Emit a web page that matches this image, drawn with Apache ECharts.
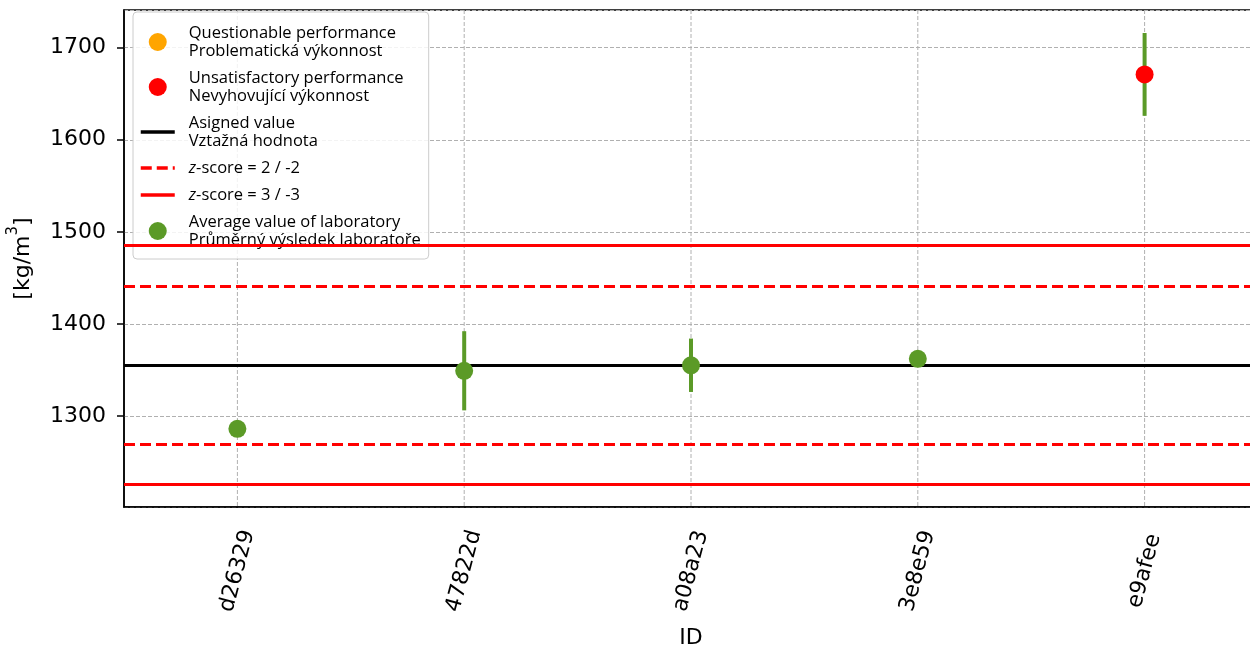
<!DOCTYPE html>
<html>
<head>
<meta charset="utf-8">
<script src="https://cdn.jsdelivr.net/npm/echarts@6/dist/echarts.min.js"></script>
<style>
  html, body { margin: 0; padding: 0; background: #fff; }
  #chart { width: 1250px; height: 645px; }
</style>
</head>
<body>
<div id="chart"></div>
<script>
// lab results
const labIds = ["d26329", "47822d", "a08a23", "3e8e59", "e9afee"];
const labMeans = [1286, 1349, 1355, 1362, 1671];
const labUncert = [3, 43, 29, 0, 45];
const labRating = ["ok", "ok", "ok", "ok", "unsatisfactory"];

const assignedValue = 1355;
const z2Limits = [1441, 1269];
const z3Limits = [1485, 1226];

const GREEN = "#5b9a27";
const RED = "#ff0000";
const ORANGE = "#ffa500";
const DASH = [11, 5];

const chart = echarts.init(document.getElementById("chart"));

const okPoints = [];
const badPoints = [];
const questPoints = [];
labIds.forEach((id, i) => {
  if (labRating[i] === "unsatisfactory") badPoints.push([i, labMeans[i]]);
  else if (labRating[i] === "questionable") questPoints.push([i, labMeans[i]]);
  else okPoints.push([i, labMeans[i]]);
});

const errBars = labIds.map((id, i) => [i, labMeans[i] - labUncert[i], labMeans[i] + labUncert[i]]);

const hLine = (name, value, color, type) => ({
  name: name,
  type: "line",
  data: [],
  symbol: "none",
  lineStyle: { color: color, width: 3, type: type },
  itemStyle: { color: color, opacity: 0 },
  markLine: {
    silent: true,
    symbol: "none",
    label: { show: false },
    lineStyle: { color: color, width: 3, type: type },
    data: [{ yAxis: value }]
  }
});

const series = [
  {
    name: "vgrid",
    type: "custom",
    z: 0,
    silent: true,
    data: labIds.map((id, i) => [i, labMeans[i]]),
    renderItem: (params, api) => {
      const x = api.coord([api.value(0), labMeans[0]])[0];
      const cs = params.coordSys;
      return {
        type: "line",
        shape: { x1: x, y1: cs.y, x2: x, y2: cs.y + cs.height },
        style: { stroke: "#b0b0b0", lineWidth: 1, lineDash: [4, 2] }
      };
    }
  },
  {
    name: "Questionable performance\nProblematická výkonnost",
    type: "scatter",
    data: questPoints,
    symbolSize: 18,
    itemStyle: { color: ORANGE, opacity: 1 },
    z: 10
  },
  {
    name: "Unsatisfactory performance\nNevyhovující výkonnost",
    type: "scatter",
    data: badPoints,
    symbolSize: 18,
    itemStyle: { color: RED, opacity: 1 },
    z: 11
  },
  hLine("Asigned value\nVztažná hodnota", assignedValue, "#000000", "solid"),
  hLine("zscore2", z2Limits[0], RED, DASH),
  hLine("zscore2", z2Limits[1], RED, DASH),
  hLine("zscore3", z3Limits[0], RED, "solid"),
  hLine("zscore3", z3Limits[1], RED, "solid"),
  {
    name: "errbars",
    type: "custom",
    z: 9,
    silent: true,
    data: errBars,
    renderItem: (params, api) => {
      const p1 = api.coord([api.value(0), api.value(1)]);
      const p2 = api.coord([api.value(0), api.value(2)]);
      return {
        type: "line",
        shape: { x1: p1[0], y1: p1[1], x2: p2[0], y2: p2[1] },
        style: { stroke: GREEN, lineWidth: 4 }
      };
    }
  },
  {
    name: "Average value of laboratory\nPrůměrný výsledek laboratoře",
    type: "scatter",
    data: okPoints,
    symbolSize: 18,
    itemStyle: { color: GREEN, opacity: 1 },
    z: 10
  }
];

const lineItem = (name, color, type) => ({
  name: name,
  itemStyle: { opacity: 0 },
  lineStyle: { color: color, width: 3.5, type: type }
});

chart.setOption({
  animation: false,
  textStyle: { fontFamily: "DejaVu Sans" },
  grid: {
    left: 124,
    right: -8,
    top: 10,
    bottom: 138,
    containLabel: false,
    outerBoundsMode: "none",
    show: true,
    borderColor: "#000",
    borderWidth: 1.5
  },
  legend: {
    orient: "vertical",
    left: 133,
    top: 12,
    padding: [12, 8, 10, 6],
    itemGap: 9,
    itemWidth: 34,
    itemHeight: 18,
    backgroundColor: "rgba(255,255,255,0.85)",
    borderColor: "#cccccc",
    borderWidth: 1,
    borderRadius: 4,
    selectedMode: false,
    data: [
      { name: "Questionable performance\nProblematická výkonnost", icon: "circle" },
      { name: "Unsatisfactory performance\nNevyhovující výkonnost", icon: "circle" },
      lineItem("Asigned value\nVztažná hodnota", "#000000", "solid"),
      lineItem("zscore2", RED, DASH),
      lineItem("zscore3", RED, "solid"),
      { name: "Average value of laboratory\nPrůměrný výsledek laboratoře", icon: "circle" }
    ],
    formatter: (name) => {
      if (name === "zscore2") return "{i|z}-score = 2 / -2";
      if (name === "zscore3") return "{i|z}-score = 3 / -3";
      return name;
    },
    textStyle: {
      fontFamily: "Open Sans",
      fontSize: 16.5,
      lineHeight: 18,
      color: "#000",
      padding: [0, 0, 0, 9],
      rich: {
        i: { fontFamily: "Open Sans", fontStyle: "italic", fontSize: 16.5, color: "#000" }
      }
    }
  },
  xAxis: {
    type: "category",
    data: labIds,
    boundaryGap: true,
    name: "ID",
    nameLocation: "middle",
    nameGap: 120,
    nameTextStyle: { fontSize: 22, color: "#000", fontFamily: "DejaVu Sans" },
    axisLine: { lineStyle: { color: "#000", width: 1.5 } },
    axisTick: { alignWithLabel: true, length: 7, lineStyle: { color: "#000", width: 1.5 } },
    axisLabel: {
      rotate: 75,
      align: "center",
      verticalAlign: "middle",
      margin: 64,
      fontSize: 22,
      color: "#000",
      fontFamily: "DejaVu Sans"
    },
    splitLine: { show: false }
  },
  yAxis: {
    type: "value",
    min: 1201,
    max: 1741,
    splitNumber: 5,
    name: "{n|[kg/m}{s|3}{n|]}",
    nameLocation: "middle",
    nameRotate: 90,
    nameGap: 90,
    nameTextStyle: {
      rich: {
        n: { fontSize: 22, lineHeight: 28, color: "#000", fontFamily: "DejaVu Sans", verticalAlign: "bottom" },
        s: { fontSize: 15, lineHeight: 15, color: "#000", fontFamily: "DejaVu Sans", verticalAlign: "top" }
      }
    },
    axisLine: { show: true, lineStyle: { color: "#000", width: 1.5 } },
    axisTick: { show: true, length: 7, lineStyle: { color: "#000", width: 1.5 } },
    axisLabel: {
      showMinLabel: false,
      showMaxLabel: false,
      margin: 18,
      fontSize: 22,
      color: "#000",
      fontFamily: "DejaVu Sans",
      formatter: (v) => String(v)
    },
    splitLine: { show: true, lineStyle: { color: "#b0b0b0", width: 1, type: [4, 2] } }
  },
  series: series
});
</script>
</body>
</html>
